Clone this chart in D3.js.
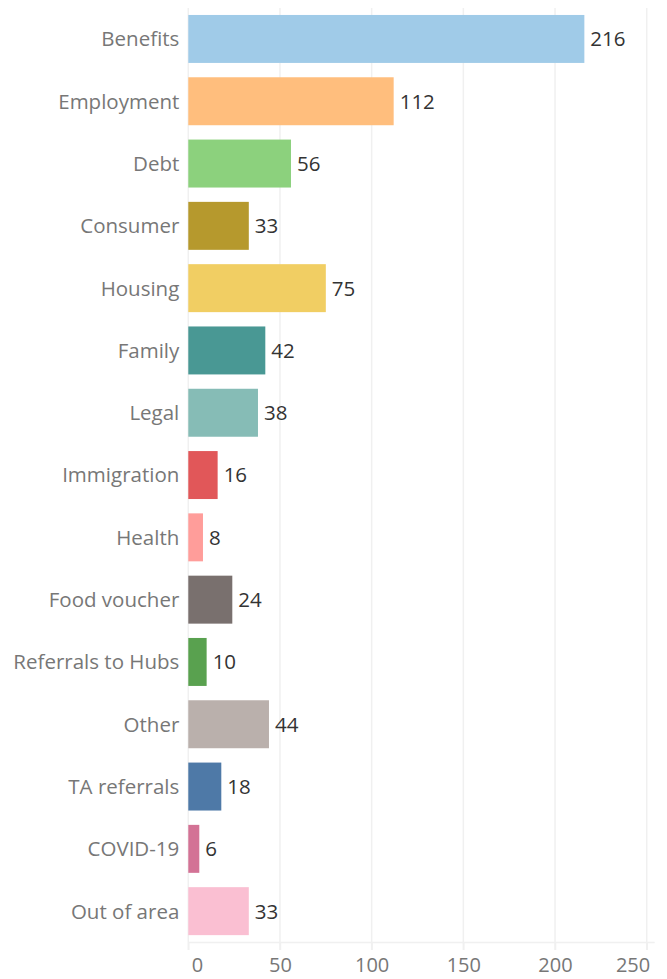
<!DOCTYPE html>
<html>
<head>
<meta charset="utf-8">
<script src="https://cdn.jsdelivr.net/npm/d3@7"></script>
<style>
  html, body { margin: 0; padding: 0; background: #fff; }
  svg { display: block; }
</style>
</head>
<body>
<script>
const categories = ["Benefits","Employment","Debt","Consumer","Housing","Family","Legal","Immigration","Health","Food voucher","Referrals to Hubs","Other","TA referrals","COVID-19","Out of area"];
const values = [216,112,56,33,75,42,38,16,8,24,10,44,18,6,33];
const colors = ["#A0CBE8","#FFBE7D","#8CD17D","#B6992D","#F1CE63","#499894","#86BCB6","#E15759","#FF9D9A","#79706E","#59A14F","#BAB0AC","#4E79A7","#D37295","#FABFD2"];
const tickValues = [0,50,100,150,200,250];

const W = 667, H = 979;
const FONT = "'Open Sans', sans-serif";
const FS = 20.5;
const data = categories.map((c,i)=>({cat:c, val:values[i], color:colors[i]}));

const svg = d3.select("body").append("svg").attr("width",W).attr("height",H);

const x = d3.scaleLinear().domain([0,250]).range([188.3,646.7]);
const y = d3.scaleBand().domain(categories).range([7.8,942.3]).paddingInner(0.23).paddingOuter(0.115);

// gridlines
svg.append("g").selectAll("line").data(tickValues).join("line")
  .attr("x1",d=>x(d)).attr("x2",d=>x(d)).attr("y1",8).attr("y2",950)
  .attr("stroke","#f0f0f0").attr("stroke-width",1.5);

// bars
svg.append("g").selectAll("rect").data(data).join("rect")
  .attr("x",x(0)).attr("y",d=>y(d.cat))
  .attr("width",d=>x(d.val)-x(0)).attr("height",y.bandwidth())
  .attr("fill",d=>d.color);

// value labels
svg.append("g").selectAll("text").data(data).join("text")
  .attr("x",d=>x(d.val)+6).attr("y",d=>y(d.cat)+y.bandwidth()/2)
  .attr("dy","0.36em")
  .attr("font-family",FONT).attr("font-size",FS).attr("fill","#333")
  .text(d=>d.val);

// y axis labels
const yAxis = d3.axisLeft(y).tickSize(0).tickPadding(9);
const gy = svg.append("g").attr("transform",`translate(${x(0)},0)`).call(yAxis);
gy.select(".domain").remove();
gy.selectAll("text").attr("font-family",FONT).attr("font-size",FS).attr("fill","#777").attr("dy","0.36em");

// x axis
const xAxis = d3.axisBottom(x).tickValues(tickValues).tickSize(8).tickPadding(8).tickFormat(d3.format("d"));
const gx = svg.append("g").attr("transform",`translate(0,942)`).call(xAxis);
gx.select(".domain").attr("stroke","#f0f0f0").attr("stroke-width",1.5).attr("d",`M${x(0)},0.5H${x(250)+8}`);
gx.selectAll(".tick line").attr("stroke","#f0f0f0").attr("stroke-width",1.5);
gx.selectAll("text").attr("font-family",FONT).attr("font-size",20).attr("fill","#777");
gx.selectAll(".tick").filter(d=>d===0).select("text").attr("text-anchor","start").attr("dx",3);
gx.selectAll(".tick").filter(d=>d===250).select("text").attr("text-anchor","end").attr("dx",3);
</script>
</body>
</html>
